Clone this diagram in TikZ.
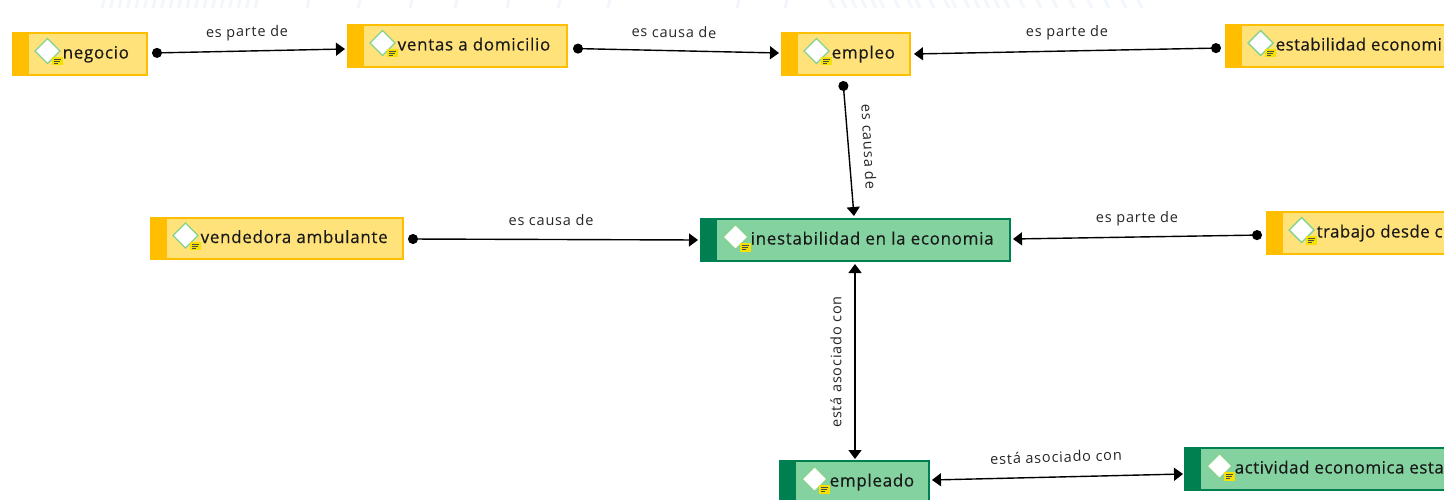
\documentclass[tikz,border=0pt]{standalone}
\usepackage{fontspec}
\setmainfont{Open Sans}
\newfontfamily\cfont[LetterSpace=4,FakeBold=0.35]{Open Sans}
\newfontfamily\lfont[LetterSpace=5.5]{Open Sans}
\usetikzlibrary{arrows.meta}
\definecolor{yfill}{HTML}{FFE27A}
\definecolor{yedge}{HTML}{FFBE00}
\definecolor{gfill}{HTML}{83D2A0}
\definecolor{gedge}{HTML}{008050}
\definecolor{dgreen}{HTML}{86D28C}
\definecolor{noteY}{HTML}{F5E100}
\definecolor{faint}{HTML}{F3F6FA}
\tikzset{x=1pt,y=-1pt,
  lbl/.style={font=\lfont\fontsize{14.5}{16}\selectfont,text=black!85,inner sep=0pt},
  ctext/.style={font=\cfont\fontsize{17}{19}\selectfont,text=black!90,inner sep=0pt,anchor=base west},
  link/.style={line width=1.4pt,black},
  dotarrow/.style={link,{Circle[length=10pt]}-{Triangle[length=9pt,width=13pt]}},
  twoarrow/.style={link,{Triangle[length=9pt,width=13pt]}-{Triangle[length=9pt,width=13pt]}},
  faintmark/.style={draw=faint,line width=3pt},
}
% \concept{name}{x0}{y0}{x1}{y1}{fill}{edge}{text}
\newcommand{\concept}[8]{%
  \path[draw=#7,fill=#6,line width=1.2pt] (#2,#3) rectangle (#4,#5);
  \coordinate (#1) at ({(#2+#4)/2},{(#3+#5)/2});
  \fill[#7] (#2,#3) rectangle ({#2+16},#5);
  \draw[draw=dgreen,fill=white,line width=1.4pt] ({#2+34.5},{(#3+#5)/2-15.5}) -- ({#2+47},{(#3+#5)/2-3}) -- ({#2+34.5},{(#3+#5)/2+9.5}) -- ({#2+22},{(#3+#5)/2-3}) -- cycle;
  \fill[noteY] ({#2+39},{(#3+#5)/2+3}) rectangle ({#2+50},{(#3+#5)/2+11.5});
  \draw[black!70,line width=.8pt] ({#2+41},{(#3+#5)/2+5.5}) -- ({#2+48},{(#3+#5)/2+5.5}) ({#2+41},{(#3+#5)/2+7.5}) -- ({#2+47},{(#3+#5)/2+7.5}) ({#2+41},{(#3+#5)/2+9.5}) -- ({#2+45},{(#3+#5)/2+9.5});
  \node[ctext] (#1t) at ({#2+49.5},{(#3+#5)/2+4.5}) {#8};
}
\begin{document}
\begin{tikzpicture}
\useasboundingbox (0,0) rectangle (1444,500);
\clip (0,0) rectangle (1444,500);
\foreach \mx in {102,110.5,...,259,307,358,410,455,507,558,608,737,785}
  \draw[faintmark] (\mx+2,0) -- (\mx,8);
\foreach \mx in {830,842,852,862,872,880,895,908,916,930,945,952,965,975,985,995,1005,1020,1037,1053,1070,1088,1105,1122,1138}
  \draw[faintmark] (\mx,0) -- (\mx+4,8);
\concept{negocio}{13}{33}{147}{75}{yfill}{yedge}{negocio}
\concept{ventas}{348}{25}{567}{67}{yfill}{yedge}{ventas a domicilio}
\concept{empleo}{782}{33}{910}{75}{yfill}{yedge}{empleo}
\concept{estab}{1226}{25}{1480}{67}{yfill}{yedge}{\addfontfeature{LetterSpace=2.2}estabilidad economi}
\concept{vend}{151}{218}{403}{259}{yfill}{yedge}{vendedora ambulante}
\concept{inest}{701}{219}{1010}{261}{gfill}{gedge}{inestabilidad en la economia}
\concept{trab}{1267}{212}{1480}{254}{yfill}{yedge}{\addfontfeature{LetterSpace=2.2}trabajo desde c}
\concept{empleado}{780}{461}{929}{503}{gfill}{gedge}{empleado}
\concept{activ}{1185}{448}{1480}{490}{gfill}{gedge}{\addfontfeature{LetterSpace=2.8}actividad economica esta}
\coordinate (a1) at (152,53); \coordinate (a2) at (345,49);
\coordinate (b1) at (573,48.5); \coordinate (b2) at (779,53);
\coordinate (c1) at (1221,48); \coordinate (c2) at (914,54);
\coordinate (d1) at (843,81); \coordinate (d2) at (854,216);
\coordinate (e1) at (408,239); \coordinate (e2) at (698,240);
\coordinate (f1) at (1262,235); \coordinate (f2) at (1013,239);
\coordinate (g1) at (855,264); \coordinate (g2) at (855,459);
\coordinate (h1) at (932,480); \coordinate (h2) at (1183,474);
\draw[dotarrow] (a1) -- (a2);
\draw[dotarrow] (b1) -- (b2);
\draw[dotarrow] (c1) -- (c2);
\draw[dotarrow] (d1) -- (d2);
\draw[dotarrow] (e1) -- (e2);
\draw[dotarrow] (f1) -- (f2);
\draw[twoarrow] (g1) -- (g2);
\draw[twoarrow] (h1) -- (h2);
\node[lbl,rotate=1] (l1) at (247,33) {es parte de};
\node[lbl,rotate=-1] (l2) at (674,32) {es causa de};
\node[lbl] (l3) at (1067,33) {es parte de};
\node[lbl,rotate=-87] (l4) at (869,147) {es causa de};
\node[lbl] (l5) at (551,220) {es causa de};
\node[lbl] (l6) at (1137,218.5) {es parte de};
\node[lbl,rotate=90] (l7) at (836,362) {está asociado con};
\node[lbl,rotate=2] (l8) at (1056,457) {está asociado con};
\end{tikzpicture}
\end{document}
